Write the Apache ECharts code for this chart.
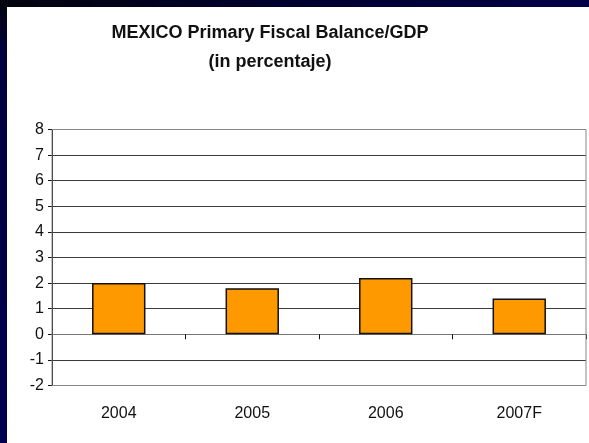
<!DOCTYPE html>
<html>
<head>
<meta charset="utf-8">
<script src="https://cdn.jsdelivr.net/npm/echarts@6/dist/echarts.min.js"></script>
<style>
html,body{margin:0;padding:0;background:#000048;}
#c{width:589px;height:443px;}
</style>
</head>
<body>
<div id="c"></div>
<script>
const categories = ['2004', '2005', '2006', '2007F'];
const balance = [2.0, 1.8, 2.2, 1.4];
const yTicks = [-2, -1, 0, 1, 2, 3, 4, 5, 6, 7, 8];
const titleLines = ['MEXICO Primary Fiscal Balance/GDP', '(in percentaje)'];

const chart = echarts.init(document.getElementById('c'), null, {renderer: 'canvas'});
chart.setOption({
  backgroundColor: '#000048',
  animation: false,
  graphic: [
    {type: 'rect', shape: {x: 0, y: 0, width: 589, height: 7}, z: -10,
     style: {fill: new echarts.graphic.LinearGradient(0, 0, 1, 0, [{offset: 0, color: '#04040c'}, {offset: 0.4, color: '#00002a'}, {offset: 1, color: '#000048'}])}},
    {type: 'rect', shape: {x: 0, y: 0, width: 7, height: 443}, z: -10,
     style: {fill: new echarts.graphic.LinearGradient(0, 0, 0, 1, [{offset: 0, color: '#04040c'}, {offset: 0.12, color: '#000040'}, {offset: 1, color: '#000050'}])}},
    {type: 'rect', shape: {x: 7, y: 7, width: 582, height: 436}, z: -10, style: {fill: '#ffffff'}},
    {type: 'text', x: 270, y: 33, z: 10, style: {text: titleLines[0], textAlign: 'center', textVerticalAlign: 'middle', font: 'bold 18px "Liberation Sans", Arial, sans-serif', fill: '#111'}},
    {type: 'text', x: 270, y: 62, z: 10, style: {text: titleLines[1], textAlign: 'center', textVerticalAlign: 'middle', font: 'bold 18px "Liberation Sans", Arial, sans-serif', fill: '#111'}}
  ],
  grid: {left: 52, right: 3, top: 129.5, bottom: 443 - 385.5, containLabel: false, show: true, z: 1, borderColor: '#888', borderWidth: 1, backgroundColor: 'transparent'},
  xAxis: [
    {type: 'category', data: categories, position: 'bottom',
     axisLine: {onZero: true, lineStyle: {color: '#777', width: 1}},
     axisTick: {show: true, alignWithLabel: false, length: 5, lineStyle: {color: '#111'}},
     axisLabel: {show: false}, splitLine: {show: false}},
    {type: 'category', data: categories, position: 'bottom',
     axisLine: {show: false, onZero: false}, axisTick: {show: false},
     axisLabel: {show: true, margin: 20, color: '#111', fontSize: 16, fontFamily: '"Liberation Sans", Arial, sans-serif'}}
  ],
  yAxis: {
    type: 'value', min: -2, max: 8, interval: 1,
    axisLine: {show: true, lineStyle: {color: '#111', width: 1}},
    axisTick: {show: true, length: 4, lineStyle: {color: '#111'}},
    axisLabel: {margin: 8, color: '#111', fontSize: 16, fontFamily: '"Liberation Sans", Arial, sans-serif',
      formatter: v => yTicks.includes(v) ? String(v) : ''},
    splitLine: {show: true, lineStyle: {color: '#3a3a3a', width: 1}}
  },
  series: [{
    type: 'bar', data: balance, xAxisIndex: 0, barCategoryGap: '60%',
    itemStyle: {color: '#ff9900', borderColor: '#111', borderWidth: 1.5},
    z: 3
  }]
});
</script>
</body>
</html>
